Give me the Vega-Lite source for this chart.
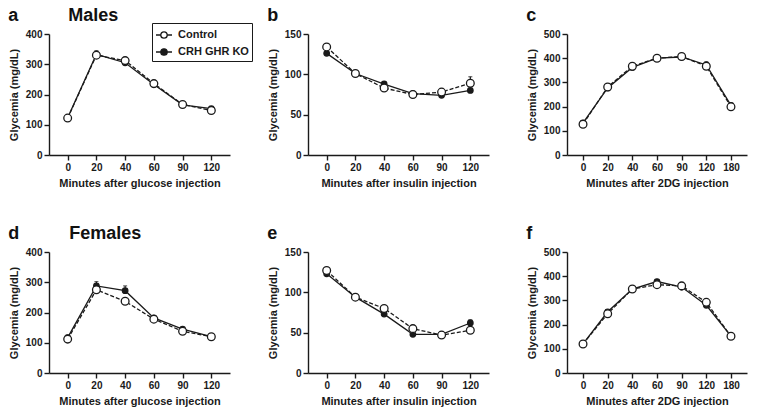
{
  "$schema": "https://vega.github.io/schema/vega-lite/v6.json",
  "background": "white",
  "padding": {"left": 8, "top": 7, "right": 4, "bottom": 4},
  "config": {
    "font": "Liberation Sans",
    "view": {"stroke": null},
    "axis": {
      "grid": false,
      "domainColor": "#1a1a1a",
      "tickColor": "#1a1a1a",
      "domainWidth": 1.4,
      "tickWidth": 1.4,
      "tickSize": 5,
      "labelFont": "Liberation Sans",
      "labelFontWeight": "bold",
      "labelFontSize": 10,
      "labelColor": "#1a1a1a",
      "labelPadding": 2,
      "titleFont": "Liberation Sans",
      "titleFontWeight": "bold",
      "titleFontSize": 11,
      "titleColor": "#1a1a1a"
    },
    "axisX": {"labelAngle": 0, "titlePadding": 5},
    "axisY": {"titlePadding": 6},
    "title": {"anchor": "start", "frame": "bounds", "fontSize": 18, "fontWeight": "bold", "font": "Liberation Sans", "offset": 4, "color": "#111111"},
    "legend": {
      "strokeColor": "#1a1a1a",
      "padding": 3,
      "symbolSize": 256,
      "symbolStrokeWidth": 1.3,
      "symbolStrokeColor": "#1a1a1a",
      "labelFont": "Liberation Sans",
      "labelFontSize": 11,
      "labelFontWeight": "bold",
      "labelColor": "#1a1a1a",
      "labelOffset": 5,
      "rowPadding": 2
    }
  },
  "datasets": {
    "d": [
      {"p": "a", "t": "0", "g": "CRH GHR KO", "y": 123, "hi": 126},
      {"p": "a", "t": "20", "g": "CRH GHR KO", "y": 333, "hi": 345},
      {"p": "a", "t": "40", "g": "CRH GHR KO", "y": 305, "hi": 311},
      {"p": "a", "t": "60", "g": "CRH GHR KO", "y": 233, "hi": 238},
      {"p": "a", "t": "90", "g": "CRH GHR KO", "y": 166, "hi": 169},
      {"p": "a", "t": "120", "g": "CRH GHR KO", "y": 153, "hi": 157},
      {"p": "b", "t": "0", "g": "CRH GHR KO", "y": 126, "hi": 128},
      {"p": "b", "t": "20", "g": "CRH GHR KO", "y": 101, "hi": 103},
      {"p": "b", "t": "40", "g": "CRH GHR KO", "y": 88, "hi": 90},
      {"p": "b", "t": "60", "g": "CRH GHR KO", "y": 76, "hi": 78},
      {"p": "b", "t": "90", "g": "CRH GHR KO", "y": 74, "hi": 76},
      {"p": "b", "t": "120", "g": "CRH GHR KO", "y": 80, "hi": 82},
      {"p": "c", "t": "0", "g": "CRH GHR KO", "y": 133, "hi": 138},
      {"p": "c", "t": "20", "g": "CRH GHR KO", "y": 277, "hi": 282},
      {"p": "c", "t": "40", "g": "CRH GHR KO", "y": 362, "hi": 367},
      {"p": "c", "t": "60", "g": "CRH GHR KO", "y": 400, "hi": 405},
      {"p": "c", "t": "90", "g": "CRH GHR KO", "y": 405, "hi": 412},
      {"p": "c", "t": "120", "g": "CRH GHR KO", "y": 372, "hi": 385},
      {"p": "c", "t": "180", "g": "CRH GHR KO", "y": 205, "hi": 212},
      {"p": "d", "t": "0", "g": "CRH GHR KO", "y": 117, "hi": 121},
      {"p": "d", "t": "20", "g": "CRH GHR KO", "y": 288, "hi": 302},
      {"p": "d", "t": "40", "g": "CRH GHR KO", "y": 272, "hi": 288},
      {"p": "d", "t": "60", "g": "CRH GHR KO", "y": 182, "hi": 186},
      {"p": "d", "t": "90", "g": "CRH GHR KO", "y": 145, "hi": 149},
      {"p": "d", "t": "120", "g": "CRH GHR KO", "y": 120, "hi": 123},
      {"p": "e", "t": "0", "g": "CRH GHR KO", "y": 123, "hi": 125},
      {"p": "e", "t": "20", "g": "CRH GHR KO", "y": 94, "hi": 96},
      {"p": "e", "t": "40", "g": "CRH GHR KO", "y": 73, "hi": 75},
      {"p": "e", "t": "60", "g": "CRH GHR KO", "y": 48, "hi": 50},
      {"p": "e", "t": "90", "g": "CRH GHR KO", "y": 48, "hi": 50},
      {"p": "e", "t": "120", "g": "CRH GHR KO", "y": 62, "hi": 66},
      {"p": "f", "t": "0", "g": "CRH GHR KO", "y": 120, "hi": 123},
      {"p": "f", "t": "20", "g": "CRH GHR KO", "y": 253, "hi": 258},
      {"p": "f", "t": "40", "g": "CRH GHR KO", "y": 347, "hi": 351},
      {"p": "f", "t": "60", "g": "CRH GHR KO", "y": 378, "hi": 384},
      {"p": "f", "t": "90", "g": "CRH GHR KO", "y": 355, "hi": 360},
      {"p": "f", "t": "120", "g": "CRH GHR KO", "y": 280, "hi": 285},
      {"p": "f", "t": "180", "g": "CRH GHR KO", "y": 152, "hi": 155},
      {"p": "a", "t": "0", "g": "Control", "y": 122, "hi": 126},
      {"p": "a", "t": "20", "g": "Control", "y": 330, "hi": 338},
      {"p": "a", "t": "40", "g": "Control", "y": 312, "hi": 318},
      {"p": "a", "t": "60", "g": "Control", "y": 236, "hi": 242},
      {"p": "a", "t": "90", "g": "Control", "y": 167, "hi": 170},
      {"p": "a", "t": "120", "g": "Control", "y": 147, "hi": 151},
      {"p": "b", "t": "0", "g": "Control", "y": 134, "hi": 138},
      {"p": "b", "t": "20", "g": "Control", "y": 101, "hi": 103},
      {"p": "b", "t": "40", "g": "Control", "y": 83, "hi": 86},
      {"p": "b", "t": "60", "g": "Control", "y": 75, "hi": 78},
      {"p": "b", "t": "90", "g": "Control", "y": 78, "hi": 82},
      {"p": "b", "t": "120", "g": "Control", "y": 89, "hi": 97},
      {"p": "c", "t": "0", "g": "Control", "y": 127, "hi": 133},
      {"p": "c", "t": "20", "g": "Control", "y": 281, "hi": 287},
      {"p": "c", "t": "40", "g": "Control", "y": 367, "hi": 373},
      {"p": "c", "t": "60", "g": "Control", "y": 400, "hi": 407},
      {"p": "c", "t": "90", "g": "Control", "y": 407, "hi": 415},
      {"p": "c", "t": "120", "g": "Control", "y": 367, "hi": 375},
      {"p": "c", "t": "180", "g": "Control", "y": 199, "hi": 205},
      {"p": "d", "t": "0", "g": "Control", "y": 112, "hi": 116},
      {"p": "d", "t": "20", "g": "Control", "y": 275, "hi": 285},
      {"p": "d", "t": "40", "g": "Control", "y": 237, "hi": 245},
      {"p": "d", "t": "60", "g": "Control", "y": 178, "hi": 182},
      {"p": "d", "t": "90", "g": "Control", "y": 138, "hi": 142},
      {"p": "d", "t": "120", "g": "Control", "y": 120, "hi": 123},
      {"p": "e", "t": "0", "g": "Control", "y": 127, "hi": 129},
      {"p": "e", "t": "20", "g": "Control", "y": 94, "hi": 96},
      {"p": "e", "t": "40", "g": "Control", "y": 80, "hi": 82},
      {"p": "e", "t": "60", "g": "Control", "y": 55, "hi": 57},
      {"p": "e", "t": "90", "g": "Control", "y": 47, "hi": 50},
      {"p": "e", "t": "120", "g": "Control", "y": 53, "hi": 55},
      {"p": "f", "t": "0", "g": "Control", "y": 120, "hi": 123},
      {"p": "f", "t": "20", "g": "Control", "y": 245, "hi": 250},
      {"p": "f", "t": "40", "g": "Control", "y": 347, "hi": 350},
      {"p": "f", "t": "60", "g": "Control", "y": 365, "hi": 370},
      {"p": "f", "t": "90", "g": "Control", "y": 360, "hi": 366},
      {"p": "f", "t": "120", "g": "Control", "y": 292, "hi": 298},
      {"p": "f", "t": "180", "g": "Control", "y": 152, "hi": 155}
    ]
  },
  "data": {"name": "d"},
  "spacing": 37,
  "vconcat": [
    {
      "spacing": 37,
      "hconcat": [
        {
          "title": {"text": "a\u00a0\u00a0\u00a0\u00a0\u00a0\u00a0\u00a0\u00a0\u00a0\u00a0Males"},
          "width": 181, "height": 121,
          "transform": [{"filter": "datum.p === 'a'"}],
          "encoding": {"x": {"field": "t", "type": "ordinal", "scale": {"type": "point", "padding": 0.65, "domain": ["0", "20", "40", "60", "90", "120"]}, "title": "Minutes after glucose injection"}, "y": {"field": "y", "type": "quantitative", "scale": {"domain": [0, 400], "nice": false}, "axis": {"values": [0, 100, 200, 300, 400]}, "title": "Glycemia (mg/dL)"}},
          "layer": [
            {"mark": {"type": "rule", "color": "#1a1a1a", "strokeWidth": 1.2}, "encoding": {"y2": {"field": "hi"}}},
            {"mark": {"type": "tick", "color": "#1a1a1a", "size": 4, "thickness": 1.2}, "encoding": {"y": {"field": "hi", "type": "quantitative", "scale": {"domain": [0, 400], "nice": false}, "axis": {"values": [0, 100, 200, 300, 400]}, "title": "Glycemia (mg/dL)"}}},
            {"transform": [{"filter": "datum.g === 'Control'"}], "mark": {"type": "line", "color": "#1a1a1a", "strokeWidth": 1.3, "strokeDash": [4, 2]}, "encoding": {}},
            {"transform": [{"filter": "datum.g !== 'Control'"}], "mark": {"type": "line", "color": "#1a1a1a", "strokeWidth": 1.3}, "encoding": {}},
            {"mark": {"type": "point", "filled": true, "stroke": "#1a1a1a", "strokeWidth": 1.3, "opacity": 1, "shape": "circle"}, "encoding": {"fill": {"field": "g", "type": "nominal", "scale": {"domain": ["Control", "CRH GHR KO"], "range": ["white", "#1a1a1a"]}, "legend": {"orient": "none", "legendX": 103, "legendY": -11, "title": null, "symbolType": "M-1,0L-0.4,0M0.4,0L1,0M-0.4,0A0.4,0.4,0,1,1,0.4,0A0.4,0.4,0,1,1,-0.4,0Z"}}, "size": {"condition": {"test": "datum.g === 'Control'", "value": 60}, "value": 30}}}
          ]
        },
        {
          "title": {"text": "b"},
          "width": 181, "height": 121,
          "transform": [{"filter": "datum.p === 'b'"}],
          "encoding": {"x": {"field": "t", "type": "ordinal", "scale": {"type": "point", "padding": 0.65, "domain": ["0", "20", "40", "60", "90", "120"]}, "title": "Minutes after insulin injection"}, "y": {"field": "y", "type": "quantitative", "scale": {"domain": [0, 150], "nice": false}, "axis": {"values": [0, 50, 100, 150]}, "title": "Glycemia (mg/dL)"}},
          "layer": [
            {"mark": {"type": "rule", "color": "#1a1a1a", "strokeWidth": 1.2}, "encoding": {"y2": {"field": "hi"}}},
            {"mark": {"type": "tick", "color": "#1a1a1a", "size": 4, "thickness": 1.2}, "encoding": {"y": {"field": "hi", "type": "quantitative", "scale": {"domain": [0, 150], "nice": false}, "axis": {"values": [0, 50, 100, 150]}, "title": "Glycemia (mg/dL)"}}},
            {"transform": [{"filter": "datum.g === 'Control'"}], "mark": {"type": "line", "color": "#1a1a1a", "strokeWidth": 1.3, "strokeDash": [4, 2]}, "encoding": {}},
            {"transform": [{"filter": "datum.g !== 'Control'"}], "mark": {"type": "line", "color": "#1a1a1a", "strokeWidth": 1.3}, "encoding": {}},
            {"mark": {"type": "point", "filled": true, "stroke": "#1a1a1a", "strokeWidth": 1.3, "opacity": 1, "shape": "circle"}, "encoding": {"fill": {"field": "g", "type": "nominal", "scale": {"domain": ["Control", "CRH GHR KO"], "range": ["white", "#1a1a1a"]}, "legend": {"orient": "none", "legendX": 103, "legendY": -11, "title": null, "symbolType": "M-1,0L-0.4,0M0.4,0L1,0M-0.4,0A0.4,0.4,0,1,1,0.4,0A0.4,0.4,0,1,1,-0.4,0Z"}}, "size": {"condition": {"test": "datum.g === 'Control'", "value": 60}, "value": 30}}}
          ]
        },
        {
          "title": {"text": "c"},
          "width": 180, "height": 121,
          "transform": [{"filter": "datum.p === 'c'"}],
          "encoding": {"x": {"field": "t", "type": "ordinal", "scale": {"type": "point", "padding": 0.65, "domain": ["0", "20", "40", "60", "90", "120", "180"]}, "title": "Minutes after 2DG injection"}, "y": {"field": "y", "type": "quantitative", "scale": {"domain": [0, 500], "nice": false}, "axis": {"values": [0, 100, 200, 300, 400, 500]}, "title": "Glycemia (mg/dL)"}},
          "layer": [
            {"mark": {"type": "rule", "color": "#1a1a1a", "strokeWidth": 1.2}, "encoding": {"y2": {"field": "hi"}}},
            {"mark": {"type": "tick", "color": "#1a1a1a", "size": 4, "thickness": 1.2}, "encoding": {"y": {"field": "hi", "type": "quantitative", "scale": {"domain": [0, 500], "nice": false}, "axis": {"values": [0, 100, 200, 300, 400, 500]}, "title": "Glycemia (mg/dL)"}}},
            {"transform": [{"filter": "datum.g === 'Control'"}], "mark": {"type": "line", "color": "#1a1a1a", "strokeWidth": 1.3, "strokeDash": [4, 2]}, "encoding": {}},
            {"transform": [{"filter": "datum.g !== 'Control'"}], "mark": {"type": "line", "color": "#1a1a1a", "strokeWidth": 1.3}, "encoding": {}},
            {"mark": {"type": "point", "filled": true, "stroke": "#1a1a1a", "strokeWidth": 1.3, "opacity": 1, "shape": "circle"}, "encoding": {"fill": {"field": "g", "type": "nominal", "scale": {"domain": ["Control", "CRH GHR KO"], "range": ["white", "#1a1a1a"]}, "legend": {"orient": "none", "legendX": 103, "legendY": -11, "title": null, "symbolType": "M-1,0L-0.4,0M0.4,0L1,0M-0.4,0A0.4,0.4,0,1,1,0.4,0A0.4,0.4,0,1,1,-0.4,0Z"}}, "size": {"condition": {"test": "datum.g === 'Control'", "value": 60}, "value": 30}}}
          ]
        }
      ]
    },
    {
      "spacing": 37,
      "hconcat": [
        {
          "title": {"text": "d\u00a0\u00a0\u00a0\u00a0\u00a0\u00a0\u00a0\u00a0\u00a0\u00a0Females"},
          "width": 181, "height": 121,
          "transform": [{"filter": "datum.p === 'd'"}],
          "encoding": {"x": {"field": "t", "type": "ordinal", "scale": {"type": "point", "padding": 0.65, "domain": ["0", "20", "40", "60", "90", "120"]}, "title": "Minutes after glucose injection"}, "y": {"field": "y", "type": "quantitative", "scale": {"domain": [0, 400], "nice": false}, "axis": {"values": [0, 100, 200, 300, 400]}, "title": "Glycemia (mg/dL)"}},
          "layer": [
            {"mark": {"type": "rule", "color": "#1a1a1a", "strokeWidth": 1.2}, "encoding": {"y2": {"field": "hi"}}},
            {"mark": {"type": "tick", "color": "#1a1a1a", "size": 4, "thickness": 1.2}, "encoding": {"y": {"field": "hi", "type": "quantitative", "scale": {"domain": [0, 400], "nice": false}, "axis": {"values": [0, 100, 200, 300, 400]}, "title": "Glycemia (mg/dL)"}}},
            {"transform": [{"filter": "datum.g === 'Control'"}], "mark": {"type": "line", "color": "#1a1a1a", "strokeWidth": 1.3, "strokeDash": [4, 2]}, "encoding": {}},
            {"transform": [{"filter": "datum.g !== 'Control'"}], "mark": {"type": "line", "color": "#1a1a1a", "strokeWidth": 1.3}, "encoding": {}},
            {"mark": {"type": "point", "filled": true, "stroke": "#1a1a1a", "strokeWidth": 1.3, "opacity": 1, "shape": "circle"}, "encoding": {"fill": {"field": "g", "type": "nominal", "scale": {"domain": ["Control", "CRH GHR KO"], "range": ["white", "#1a1a1a"]}, "legend": {"orient": "none", "legendX": 103, "legendY": -11, "title": null, "symbolType": "M-1,0L-0.4,0M0.4,0L1,0M-0.4,0A0.4,0.4,0,1,1,0.4,0A0.4,0.4,0,1,1,-0.4,0Z"}}, "size": {"condition": {"test": "datum.g === 'Control'", "value": 60}, "value": 30}}}
          ]
        },
        {
          "title": {"text": "e"},
          "width": 181, "height": 121,
          "transform": [{"filter": "datum.p === 'e'"}],
          "encoding": {"x": {"field": "t", "type": "ordinal", "scale": {"type": "point", "padding": 0.65, "domain": ["0", "20", "40", "60", "90", "120"]}, "title": "Minutes after insulin injection"}, "y": {"field": "y", "type": "quantitative", "scale": {"domain": [0, 150], "nice": false}, "axis": {"values": [0, 50, 100, 150]}, "title": "Glycemia (mg/dL)"}},
          "layer": [
            {"mark": {"type": "rule", "color": "#1a1a1a", "strokeWidth": 1.2}, "encoding": {"y2": {"field": "hi"}}},
            {"mark": {"type": "tick", "color": "#1a1a1a", "size": 4, "thickness": 1.2}, "encoding": {"y": {"field": "hi", "type": "quantitative", "scale": {"domain": [0, 150], "nice": false}, "axis": {"values": [0, 50, 100, 150]}, "title": "Glycemia (mg/dL)"}}},
            {"transform": [{"filter": "datum.g === 'Control'"}], "mark": {"type": "line", "color": "#1a1a1a", "strokeWidth": 1.3, "strokeDash": [4, 2]}, "encoding": {}},
            {"transform": [{"filter": "datum.g !== 'Control'"}], "mark": {"type": "line", "color": "#1a1a1a", "strokeWidth": 1.3}, "encoding": {}},
            {"mark": {"type": "point", "filled": true, "stroke": "#1a1a1a", "strokeWidth": 1.3, "opacity": 1, "shape": "circle"}, "encoding": {"fill": {"field": "g", "type": "nominal", "scale": {"domain": ["Control", "CRH GHR KO"], "range": ["white", "#1a1a1a"]}, "legend": {"orient": "none", "legendX": 103, "legendY": -11, "title": null, "symbolType": "M-1,0L-0.4,0M0.4,0L1,0M-0.4,0A0.4,0.4,0,1,1,0.4,0A0.4,0.4,0,1,1,-0.4,0Z"}}, "size": {"condition": {"test": "datum.g === 'Control'", "value": 60}, "value": 30}}}
          ]
        },
        {
          "title": {"text": "f"},
          "width": 180, "height": 121,
          "transform": [{"filter": "datum.p === 'f'"}],
          "encoding": {"x": {"field": "t", "type": "ordinal", "scale": {"type": "point", "padding": 0.65, "domain": ["0", "20", "40", "60", "90", "120", "180"]}, "title": "Minutes after 2DG injection"}, "y": {"field": "y", "type": "quantitative", "scale": {"domain": [0, 500], "nice": false}, "axis": {"values": [0, 100, 200, 300, 400, 500]}, "title": "Glycemia (mg/dL)"}},
          "layer": [
            {"mark": {"type": "rule", "color": "#1a1a1a", "strokeWidth": 1.2}, "encoding": {"y2": {"field": "hi"}}},
            {"mark": {"type": "tick", "color": "#1a1a1a", "size": 4, "thickness": 1.2}, "encoding": {"y": {"field": "hi", "type": "quantitative", "scale": {"domain": [0, 500], "nice": false}, "axis": {"values": [0, 100, 200, 300, 400, 500]}, "title": "Glycemia (mg/dL)"}}},
            {"transform": [{"filter": "datum.g === 'Control'"}], "mark": {"type": "line", "color": "#1a1a1a", "strokeWidth": 1.3, "strokeDash": [4, 2]}, "encoding": {}},
            {"transform": [{"filter": "datum.g !== 'Control'"}], "mark": {"type": "line", "color": "#1a1a1a", "strokeWidth": 1.3}, "encoding": {}},
            {"mark": {"type": "point", "filled": true, "stroke": "#1a1a1a", "strokeWidth": 1.3, "opacity": 1, "shape": "circle"}, "encoding": {"fill": {"field": "g", "type": "nominal", "scale": {"domain": ["Control", "CRH GHR KO"], "range": ["white", "#1a1a1a"]}, "legend": {"orient": "none", "legendX": 103, "legendY": -11, "title": null, "symbolType": "M-1,0L-0.4,0M0.4,0L1,0M-0.4,0A0.4,0.4,0,1,1,0.4,0A0.4,0.4,0,1,1,-0.4,0Z"}}, "size": {"condition": {"test": "datum.g === 'Control'", "value": 60}, "value": 30}}}
          ]
        }
      ]
    }
  ]
}
